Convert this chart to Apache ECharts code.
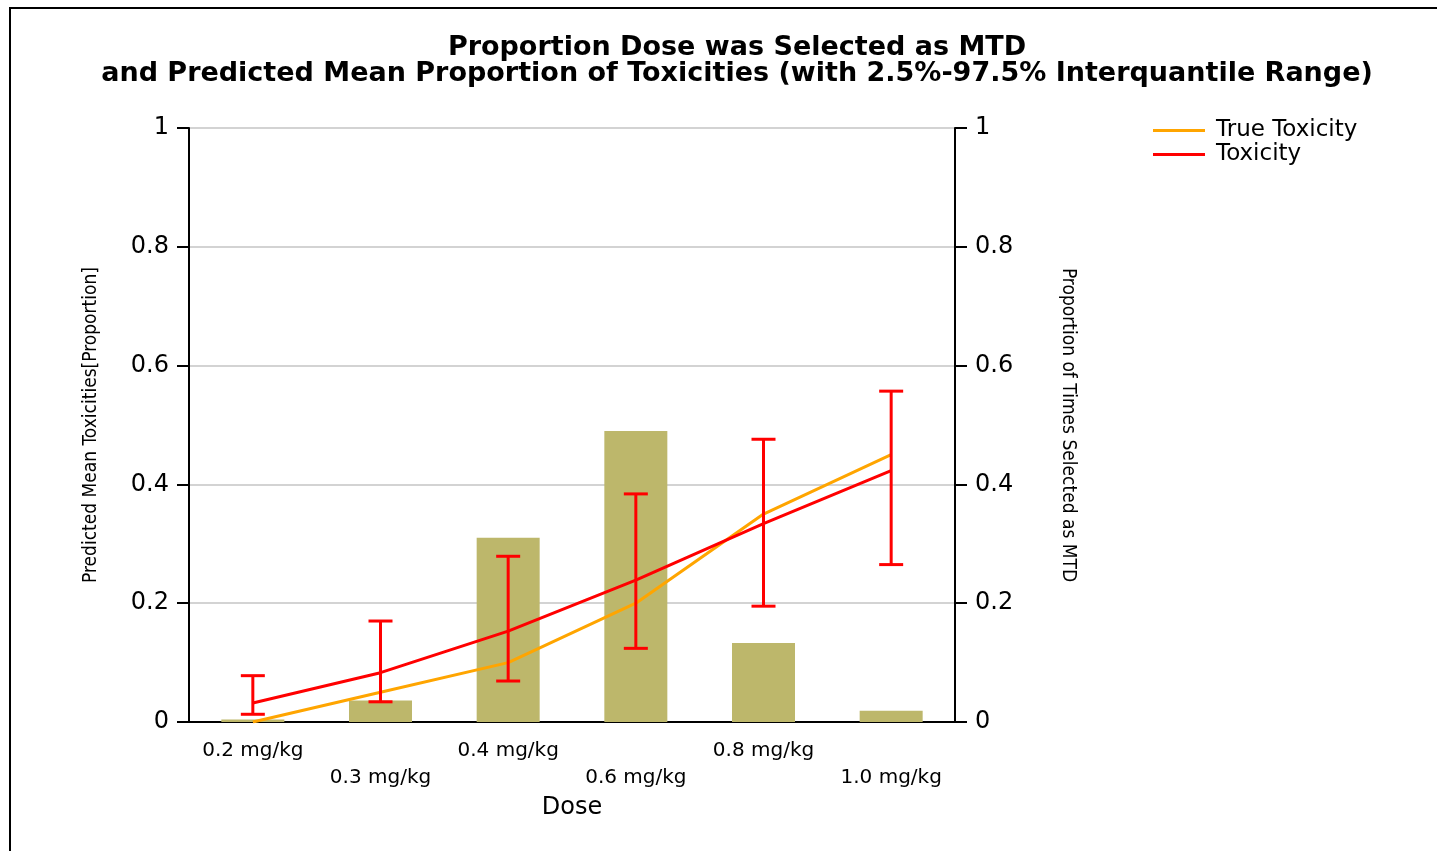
<!DOCTYPE html>
<html>
<head>
<meta charset="utf-8">
<title>Proportion Dose was Selected as MTD</title>
<script src="https://cdn.jsdelivr.net/npm/echarts@6/dist/echarts.min.js"></script>
<style>
  html, body { margin: 0; padding: 0; background: #fff; }
  #chart { width: 1437px; height: 851px; }
</style>
</head>
<body>
<div id="chart"></div>
<script>
// Dose levels on the category axis
const doses = ['0.2 mg/kg', '0.3 mg/kg', '0.4 mg/kg', '0.6 mg/kg', '0.8 mg/kg', '1.0 mg/kg'];
// Proportion of simulated trials that picked each dose as MTD (right axis)
const selectedAsMTD = [0.004, 0.036, 0.31, 0.49, 0.133, 0.019];
// True toxicity probabilities
const trueToxicity = [0.0, 0.05, 0.1, 0.2, 0.35, 0.45];
// Predicted mean toxicity with 2.5% / 97.5% quantiles
const predictedToxicity = [0.032, 0.083, 0.153, 0.239, 0.334, 0.423];
const lowerQuantile = [0.013, 0.034, 0.069, 0.124, 0.195, 0.265];
const upperQuantile = [0.078, 0.170, 0.279, 0.384, 0.476, 0.557];
// Tick values shared by both value axes
const yTicks = [0, 0.2, 0.4, 0.6, 0.8, 1];

const FONT = 'DejaVu Sans';
const NARROW = '"DejaVu Sans Condensed", "Liberation Sans Narrow", "Liberation Sans", sans-serif';
const chart = echarts.init(document.getElementById('chart'), null, { renderer: 'canvas' });

const errorData = doses.map((d, i) => [i, lowerQuantile[i], upperQuantile[i]]);

function valueAxis(position, name, nameGap) {
  return {
    type: 'value',
    position: position,
    min: yTicks[0],
    max: yTicks[yTicks.length - 1],
    interval: yTicks[1] - yTicks[0],
    name: name,
    nameLocation: 'middle',
    nameGap: nameGap,
    nameRotate: position === 'left' ? 90 : -90,
    nameTextStyle: { fontFamily: NARROW, fontSize: 19, color: '#000' },
    axisLine: { show: true, lineStyle: { color: '#000', width: 2 } },
    axisTick: { show: true, inside: false, length: 12, lineStyle: { color: '#000', width: 2 } },
    axisLabel: { fontFamily: FONT, fontSize: 24, color: '#000', margin: 20 },
    splitLine: { show: position === 'left', lineStyle: { color: '#d3d3d3', width: 2 } }
  };
}

const option = {
  backgroundColor: '#fff',
  animation: false,
  title: {
    text: 'Proportion Dose was Selected as MTD\nand Predicted Mean Proportion of Toxicities (with 2.5%-97.5% Interquantile Range)',
    left: 732,
    top: 30,
    textAlign: 'center',
    textStyle: { fontFamily: FONT, fontWeight: 'bold', fontSize: 27, lineHeight: 26, color: '#000' }
  },
  legend: {
    orient: 'vertical',
    left: 1148,
    top: 114,
    itemWidth: 52,
    itemHeight: 3,
    itemGap: 1,
    textStyle: { fontFamily: FONT, fontSize: 23, color: '#000', padding: [0, 0, 0, 6] },
    data: [
      { name: 'True Toxicity', icon: 'rect', itemStyle: { color: '#FFA500' } },
      { name: 'Toxicity', icon: 'rect', itemStyle: { color: '#FF0000' } }
    ]
  },
  grid: { left: 189, right: 482, top: 128, bottom: 129, containLabel: false },
  xAxis: {
    type: 'category',
    data: doses,
    name: 'Dose',
    nameLocation: 'middle',
    nameGap: 73,
    nameTextStyle: { fontFamily: FONT, fontSize: 24, color: '#000' },
    axisLine: { lineStyle: { color: '#000', width: 2 } },
    axisTick: { alignWithLabel: true, length: 10, lineStyle: { color: '#000', width: 2 } },
    axisLabel: {
      interval: 0,
      fontFamily: FONT,
      fontSize: 20,
      color: '#000',
      margin: 15,
      lineHeight: 27,
      formatter: (v, i) => (i % 2 ? '\n' + v : v)
    }
  },
  yAxis: [
    valueAxis('left', 'Predicted Mean Toxicities[Proportion]', 88),
    valueAxis('right', 'Proportion of Times Selected as MTD', 103)
  ],
  graphic: [{
    type: 'rect',
    silent: true,
    z: 100,
    shape: { x: 10, y: 8, width: 1500, height: 900 },
    style: { fill: 'none', stroke: '#000', lineWidth: 2 }
  }],
  series: [
    {
      name: 'Selected as MTD',
      type: 'bar',
      yAxisIndex: 1,
      data: selectedAsMTD,
      barWidth: 63,
      itemStyle: { color: '#BDB76B' },
      z: 1
    },
    {
      name: 'True Toxicity',
      type: 'line',
      yAxisIndex: 0,
      data: trueToxicity,
      showSymbol: false,
      lineStyle: { color: '#FFA500', width: 3 },
      itemStyle: { color: '#FFA500' },
      z: 3
    },
    {
      name: 'Toxicity',
      type: 'line',
      yAxisIndex: 0,
      data: predictedToxicity,
      showSymbol: false,
      lineStyle: { color: '#FF0000', width: 3 },
      itemStyle: { color: '#FF0000' },
      z: 4
    },
    {
      name: 'Interquantile Range',
      type: 'custom',
      yAxisIndex: 0,
      data: errorData,
      z: 5,
      renderItem: function (params, api) {
        const x = api.value(0);
        const lo = api.coord([x, api.value(1)]);
        const hi = api.coord([x, api.value(2)]);
        const half = 12;
        const style = { stroke: '#FF0000', lineWidth: 3 };
        return {
          type: 'group',
          children: [
            { type: 'line', shape: { x1: hi[0], y1: hi[1], x2: lo[0], y2: lo[1] }, style: style },
            { type: 'line', shape: { x1: hi[0] - half, y1: hi[1], x2: hi[0] + half, y2: hi[1] }, style: style },
            { type: 'line', shape: { x1: lo[0] - half, y1: lo[1], x2: lo[0] + half, y2: lo[1] }, style: style }
          ]
        };
      },
      encode: { x: 0, y: [1, 2] }
    }
  ]
};

chart.setOption(option);
</script>
</body>
</html>
